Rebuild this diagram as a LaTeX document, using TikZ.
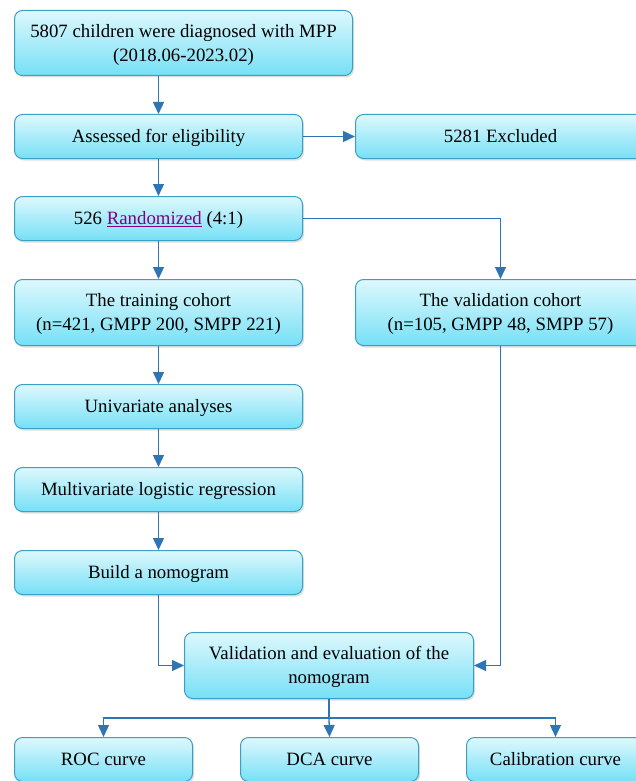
\documentclass[tikz,border=0pt]{standalone}
\usepackage{fontspec}
\setmainfont{Liberation Serif}
\usetikzlibrary{arrows.meta,shadows}

\definecolor{boxtop}{RGB}{222,248,253}
\definecolor{boxbot}{RGB}{118,224,246}
\definecolor{boxline}{RGB}{58,160,198}
\definecolor{flow}{RGB}{46,117,182}
\definecolor{linkpurple}{RGB}{128,0,128}

\begin{document}
\begin{tikzpicture}[
  x=1pt, y=-1pt,
  font=\fontsize{18.8}{24}\selectfont,
  box/.style  = {draw=boxline, line width=1pt, rounded corners=8pt,
                 top color=boxtop, bottom color=boxbot, align=center,
                 anchor=north west, inner sep=0pt, text depth=1pt,
                 drop shadow={opacity=0.25, shadow xshift=1.5pt, shadow yshift=-2pt}},
  lowbox/.style = {box, minimum height=44pt},
  tallbox/.style = {box, minimum height=66pt},
  flowline/.style = {draw=flow, line width=1.3pt},
  flowarr/.style  = {flowline, -{Triangle[length=12pt,width=11pt]}},
]
\useasboundingbox (0,0) rectangle (636,781);

% --- screening column ---------------------------------------------------
\node[tallbox, minimum width=338pt, minimum height=65pt] (diag) at (14,10)
  {5807 children were diagnosed with MPP\\(2018.06-2023.02)};
\node[lowbox, minimum width=288pt] (assess) at (14,114) {Assessed for eligibility};
\node[lowbox, minimum width=290pt] (excl) at (355,114) {5281 Excluded};
\node[lowbox, minimum width=288pt] (rand) at (14,196)
  {526 \textcolor{linkpurple}{\underline{Randomized}} (4:1)};

% --- cohorts ------------------------------------------------------------
\node[tallbox, minimum width=288pt] (train) at (14,279)
  {The training cohort\\(n=421, GMPP 200, SMPP 221)};
\node[tallbox, minimum width=290pt] (valid) at (355,279)
  {The validation cohort\\(n=105, GMPP 48, SMPP 57)};

% --- model building -----------------------------------------------------
\node[lowbox, minimum width=288pt] (univ) at (14,384) {Univariate analyses};
\node[lowbox, minimum width=288pt] (multi) at (14,467) {Multivariate logistic regression};
\node[lowbox, minimum width=288pt] (build) at (14,550) {Build a nomogram};

\node[tallbox, minimum width=289pt] (evalbox) at (184,632)
  {Validation and evaluation of the\\nomogram};

% --- outcome curves -----------------------------------------------------
\node[lowbox, minimum width=178pt] (roc) at (14,737) {ROC curve};
\node[lowbox, minimum width=178pt] (dca) at (240,737) {DCA curve};
\node[lowbox, minimum width=178pt] (calib) at (466,737) {Calibration curve};

% --- connectors ---------------------------------------------------------
\draw[flowarr] (assess.north |- diag.south) -- (assess.north);
\draw[flowarr] (assess.east) -- (excl.west);
\draw[flowarr] (assess.south) -- (rand.north);
\draw[flowarr] (rand.south) -- (train.north);
\draw[flowarr] (rand.east) -| (valid.north);
\draw[flowarr] (train.south) -- (univ.north);
\draw[flowarr] (univ.south) -- (multi.north);
\draw[flowarr] (multi.south) -- (build.north);
\draw[flowarr] (build.south) |- (evalbox.west);
\draw[flowarr] (valid.south) |- (evalbox.east);

\draw[flowline] (evalbox.south) -- ++(0,19) coordinate (split);
\draw[flowarr] (split) -| (roc.north);
\draw[flowarr] (split) -- (dca.north);
\draw[flowarr] (split) -| (calib.north);

\end{tikzpicture}
\end{document}
